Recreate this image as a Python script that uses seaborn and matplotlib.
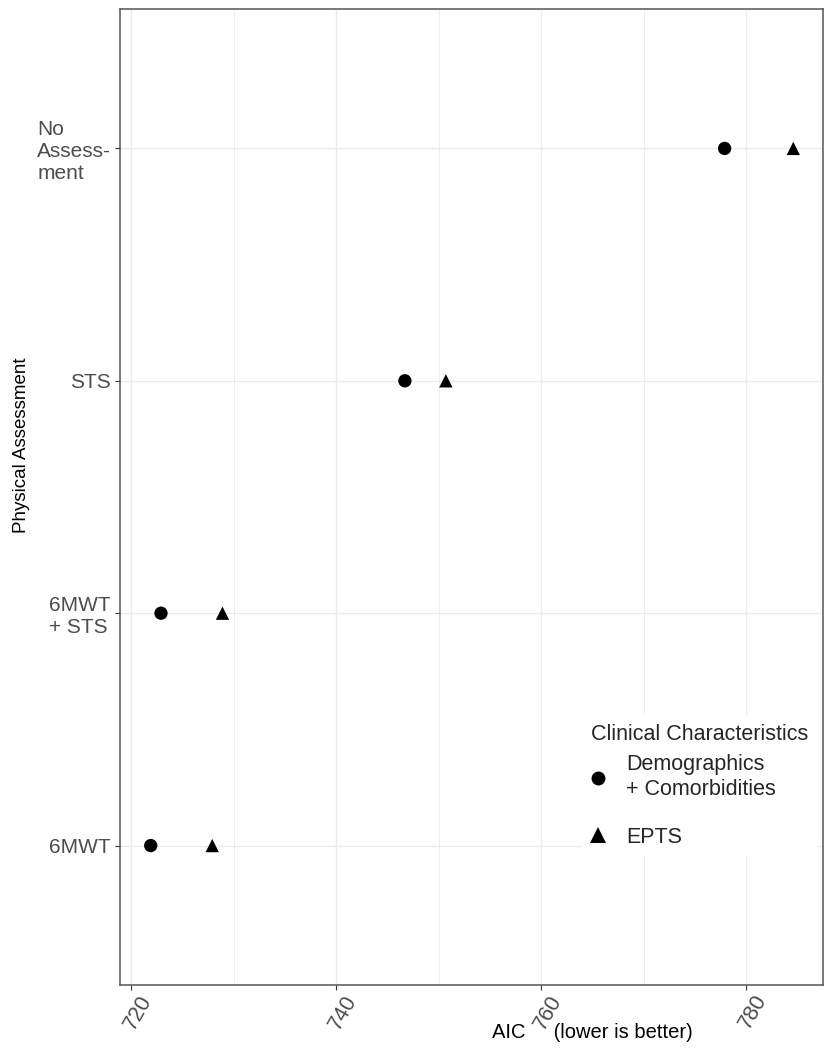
import pandas as pd
import matplotlib.pyplot as plt
import seaborn as sns
from matplotlib.ticker import MultipleLocator
from matplotlib.transforms import ScaledTranslation

# ----------------------------------------------------------------------
# Data, bottom to top
# ----------------------------------------------------------------------
ASSESSMENTS = ["6MWT", "6MWT\n+ STS", "STS", "No\nAssess-\nment"]
DEMO_AIC = [721.9, 722.9, 746.7, 777.9]
EPTS_AIC = [727.9, 728.9, 750.7, 784.6]
CLINICAL = ["Demographics\n+ Comorbidities", "EPTS"]
MARKERS = {CLINICAL[0]: "o", CLINICAL[1]: "^"}

GRID = "#EBEBEB"
TICK_TXT = "#4D4D4D"


def build_frame():
    rows = []
    for a, d, e in zip(ASSESSMENTS, DEMO_AIC, EPTS_AIC):
        rows.append({"Assessment": a, "AIC": d, "Clinical": CLINICAL[0]})
        rows.append({"Assessment": a, "AIC": e, "Clinical": CLINICAL[1]})
    return pd.DataFrame(rows)


def main():
    sns.set_theme(style="white")
    plt.rcParams["font.family"] = ["Liberation Sans", "DejaVu Sans"]

    df = build_frame()
    fig = plt.figure(figsize=(8.4, 10.5), dpi=100)
    ax = fig.add_axes([120 / 840, 65 / 1050, 703 / 840, 976 / 1050])

    sns.scatterplot(data=df, x="AIC", y="Assessment", style="Clinical",
                    markers=MARKERS, color="black", s=92, linewidth=0,
                    ax=ax, zorder=3)

    # axes limits, ticks, grid (ggplot theme_bw look)
    ax.set_xlim(718.9, 787.5)
    ax.set_ylim(-0.6, len(ASSESSMENTS) - 0.4)
    ax.xaxis.set_major_locator(MultipleLocator(20))
    ax.xaxis.set_minor_locator(MultipleLocator(10))
    ax.grid(which="major", color=GRID, linewidth=1.0, zorder=0)
    ax.grid(which="minor", axis="x", color=GRID, linewidth=0.6, zorder=0)
    ax.set_axisbelow(True)
    for sp in ax.spines.values():
        sp.set_color("#555555")
        sp.set_linewidth(1.1)

    ax.tick_params(axis="both", which="major", length=3.5, width=0.8,
                   color="#333333", labelsize=15, labelcolor=TICK_TXT,
                   bottom=True, left=True)
    ax.tick_params(axis="x", which="minor", length=0)
    ax.tick_params(axis="x", pad=1)
    ax.tick_params(axis="y", pad=3)

    for lbl in ax.get_yticklabels():
        lbl.set_multialignment("left")
    offset = ScaledTranslation(7 / 100, 0, fig.dpi_scale_trans)
    for lbl in ax.get_xticklabels():
        lbl.set_rotation(60)
        lbl.set_ha("center")
        lbl.set_va("top")
        lbl.set_fontsize(15.5)
        lbl.set_transform(lbl.get_transform() + offset)

    ax.set_xlabel("AIC     (lower is better)", fontsize=14.5, color="black")
    ax.xaxis.set_label_coords(0.672, -0.039)
    ax.set_ylabel("Physical Assessment", fontsize=13.5, color="black")
    ax.yaxis.set_label_coords(-0.128, 0.553)

    # legend inside the panel
    handles, labels = ax.get_legend_handles_labels()
    for h, ms in zip(handles, [10, 11.5]):
        h.set_color("black")
        h.set_markersize(ms)
    leg = ax.legend(handles, labels, title="Clinical Characteristics",
                    loc="lower right", bbox_to_anchor=(0.991, 0.132),
                    borderaxespad=0,
                    fontsize=15.5, title_fontsize=15.5, frameon=True,
                    facecolor="white", edgecolor="none", framealpha=1,
                    labelspacing=1.25, handlelength=0.65, handletextpad=1.0,
                    borderpad=0.4, alignment="left")
    leg._legend_box.sep = 7

    fig.savefig("out.png", dpi=100)


if __name__ == "__main__":
    main()
